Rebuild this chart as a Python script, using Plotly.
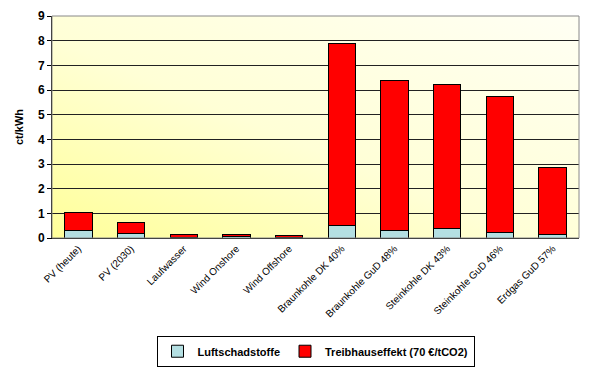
import base64
import plotly.graph_objects as go

categories = ["PV (heute)", "PV (2030)", "Laufwasser", "Wind Onshore", "Wind Offshore",
              "Braunkohle DK 40%", "Braunkohle GuD 48%", "Steinkohle DK 43%",
              "Steinkohle GuD 46%", "Erdgas GuD 57%"]
luftschadstoffe = [0.32, 0.19, 0.03, 0.05, 0.02, 0.51, 0.30, 0.39, 0.24, 0.15]
treibhauseffekt = [0.72, 0.42, 0.12, 0.11, 0.10, 7.37, 6.08, 5.84, 5.50, 2.72]
y_ticks = list(range(0, 10))

FONT = "Liberation Sans, Arial, sans-serif"

svg = """<svg xmlns='http://www.w3.org/2000/svg' width='100' height='100' preserveAspectRatio='none' viewBox='0 0 100 100'>
<defs><linearGradient id='g' x1='0' y1='1' x2='1' y2='0'>
<stop offset='0' stop-color='#FFFF99'/>
<stop offset='0.45' stop-color='#FFFFD6'/>
<stop offset='1' stop-color='#FFFFF4'/>
</linearGradient></defs>
<rect x='0' y='0' width='100' height='100' fill='url(#g)'/></svg>"""
src = "data:image/svg+xml;base64," + base64.b64encode(svg.encode()).decode()

fig = go.Figure()
fig.add_trace(go.Bar(x=categories, y=luftschadstoffe, name="Luftschadstoffe",
                     marker=dict(color="#B4DFE2", line=dict(color="black", width=1))))
fig.add_trace(go.Bar(x=categories, y=treibhauseffekt, name="Treibhauseffekt (70 €/tCO2)",
                     marker=dict(color="#FF0000", line=dict(color="black", width=1))))

# page body has an 8px margin, so the figure is sized/offset to compensate
fig.update_layout(
    barmode="stack",
    bargap=0.48,
    width=589, height=367,
    margin=dict(l=44, r=18, t=8, b=137, autoexpand=False),
    paper_bgcolor="white",
    plot_bgcolor="rgba(0,0,0,0)",
    font=dict(family=FONT, color="black"),
    images=[dict(source=src, xref="paper", yref="paper", x=0, y=1, sizex=1, sizey=1,
                 xanchor="left", yanchor="top", sizing="stretch", layer="below")],
    xaxis=dict(tickangle=-45, tickfont=dict(size=10, family=FONT), showline=True,
               linecolor="black", linewidth=1, mirror=False, ticks="",
               showgrid=False, automargin=False),
    yaxis=dict(range=[0, 9], tickvals=y_ticks, showgrid=True, gridcolor="#222222",
               gridwidth=1, showline=True, linecolor="black", linewidth=1,
               ticks="outside", ticklen=4, tickcolor="black",
               tickfont=dict(size=12, family=FONT, weight="bold"),
               title=dict(text="ct/kWh", font=dict(size=11, family=FONT, weight="bold"),
                          standoff=12),
               zeroline=False, automargin=False),
    legend=dict(orientation="h", x=0.5, xanchor="center", y=-0.51, yanchor="middle",
                bordercolor="black", borderwidth=1, bgcolor="white",
                traceorder="normal",
                font=dict(size=11, family=FONT, weight="bold"),
                itemwidth=30, tracegroupgap=0),
    shapes=[dict(type="rect", xref="paper", yref="paper", x0=0, y0=0, x1=1, y1=1,
                 line=dict(color="#888888", width=1), layer="above")],
)

fig.write_html("out.html")
